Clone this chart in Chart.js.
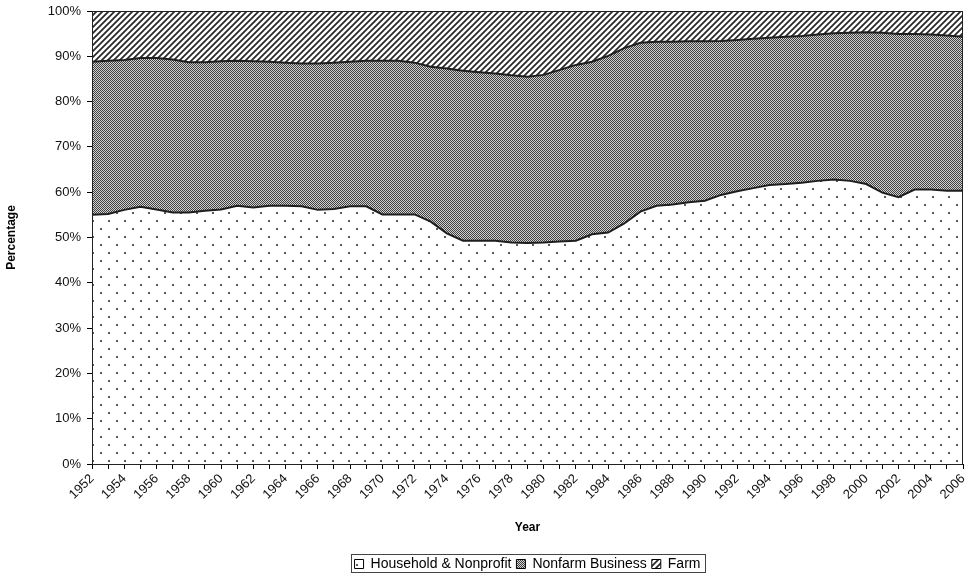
<!DOCTYPE html>
<html>
<head>
<meta charset="utf-8">
<script src="https://cdn.jsdelivr.net/npm/chart.js@4.4.0/dist/chart.umd.min.js"></script>
<style>body{margin:0;background:#fff}</style>
</head>
<body>
<canvas id="sectorChart" width="968" height="576"></canvas>
<script>
// share of total, percent
const years = ["1952","1953","1954","1955","1956","1957","1958","1959","1960","1961",
  "1962","1963","1964","1965","1966","1967","1968","1969","1970","1971",
  "1972","1973","1974","1975","1976","1977","1978","1979","1980","1981",
  "1982","1983","1984","1985","1986","1987","1988","1989","1990","1991",
  "1992","1993","1994","1995","1996","1997","1998","1999","2000","2001",
  "2002","2003","2004","2005","2006"];

const household = [55.0,55.2,56.1,56.8,56.2,55.5,55.5,55.9,56.2,57.0,
  56.6,57.0,57.0,56.9,56.1,56.3,56.9,56.9,55.1,55.1,
  55.1,53.5,50.9,49.3,49.3,49.3,48.9,48.8,48.9,49.1,
  49.3,50.7,51.1,53.1,55.7,57.0,57.3,57.8,58.1,59.4,
  60.2,60.9,61.6,61.8,62.1,62.5,62.8,62.5,61.8,59.9,
  58.9,60.6,60.6,60.3,60.3];

const nonfarm = [33.8,33.8,33.1,32.8,33.4,33.8,33.2,32.8,32.7,32.0,
  32.3,31.8,31.6,31.5,32.3,32.3,31.9,32.1,33.9,33.9,
  33.5,34.2,36.4,37.5,37.2,36.9,36.9,36.7,37.0,37.9,
  38.8,38.1,39.0,38.7,37.3,36.2,35.9,35.5,35.2,34.0,
  33.4,33.0,32.5,32.5,32.4,32.3,32.3,32.7,33.5,35.3,
  36.0,34.3,34.2,34.3,34.0];

const farm = [11.2,11.0,10.8,10.4,10.4,10.7,11.3,11.3,11.1,11.0,
  11.1,11.2,11.4,11.6,11.6,11.4,11.2,11.0,11.0,11.0,
  11.4,12.3,12.7,13.2,13.5,13.8,14.2,14.5,14.1,13.0,
  11.9,11.2,9.9,8.2,7.0,6.8,6.8,6.7,6.7,6.6,
  6.4,6.1,5.9,5.7,5.5,5.2,4.9,4.8,4.7,4.8,
  5.1,5.1,5.2,5.4,5.7];

const yTicks = [0,10,20,30,40,50,60,70,80,90,100];

const FONT = "Arial, 'Liberation Sans', sans-serif";

function makePattern(w, h, draw) {
  const c = document.createElement("canvas");
  c.width = w; c.height = h;
  const g = c.getContext("2d");
  draw(g);
  return g.createPattern(c, "repeat");
}

// household: white with sparse staggered dots
const dotFill = makePattern(16, 16, g => {
  g.fillStyle = "#fff";
  g.fillRect(0, 0, 16, 16);
  g.fillStyle = "#5a5a5a";
  g.fillRect(4, 4, 2, 2);
  g.fillRect(12, 12, 2, 2);
});

// nonfarm: fine grey checker
const checkFill = makePattern(2, 2, g => {
  g.fillStyle = "#d2d2d2";
  g.fillRect(0, 0, 2, 2);
  g.fillStyle = "#404040";
  g.fillRect(0, 0, 1, 1);
  g.fillRect(1, 1, 1, 1);
});

// farm: diagonal hatch
const hatchFill = makePattern(6, 6, g => {
  g.fillStyle = "#fff";
  g.fillRect(0, 0, 6, 6);
  g.strokeStyle = "#2a2a2a";
  g.lineWidth = 1.8;
  g.beginPath();
  g.moveTo(-1, 7); g.lineTo(7, -1);
  g.moveTo(-4, 4); g.lineTo(4, -4);
  g.moveTo(2, 10); g.lineTo(10, 2);
  g.stroke();
});

const frame = {
  id: "frame",
  beforeLayout(chart) {
    const lg = chart.legend;
    if (lg && !lg._fixed) {
      const fit = lg.fit.bind(lg);
      lg.fit = function () { fit(); this.height = 24; };
      lg._fixed = true;
    }
  },
  afterDatasetsDraw(chart) {
    const a = chart.chartArea, ctx = chart.ctx;
    ctx.save();
    ctx.strokeStyle = "#222";
    ctx.lineWidth = 1;
    ctx.strokeRect(a.left + 0.5, a.top + 0.5, a.right - a.left - 1, a.bottom - a.top);
    ctx.restore();
  },
  afterDraw(chart) {
    const hb = chart.legend.legendHitBoxes;
    if (!hb || !hb.length) return;
    const left = Math.min(...hb.map(b => b.left)) - 4;
    const right = Math.max(...hb.map(b => b.left + b.width)) + 4;
    const top = hb[0].top - 3;
    const ctx = chart.ctx;
    ctx.save();
    ctx.strokeStyle = "#444";
    ctx.lineWidth = 1;
    ctx.strokeRect(Math.round(left) + 0.5, Math.round(top) + 0.5, Math.round(right - left), Math.round(hb[0].height) + 4);
    ctx.restore();
  }
};

const ctx = document.getElementById("sectorChart").getContext("2d");

new Chart(ctx, {
  type: "line",
  data: {
    labels: years,
    datasets: [
      { label: "Household & Nonprofit", data: household, backgroundColor: dotFill, fill: "origin" },
      { label: "Nonfarm Business", data: nonfarm, backgroundColor: checkFill, fill: "-1" },
      { label: "Farm", data: farm, backgroundColor: hatchFill, fill: "-1" }
    ]
  },
  options: {
    responsive: false,
    animation: false,
    layout: { padding: { top: 11, right: 5, left: 0, bottom: 0 } },
    elements: {
      line: { borderColor: "#1e1e1e", borderWidth: 2, tension: 0 },
      point: { radius: 0, hoverRadius: 0 }
    },
    scales: {
      x: {
        offset: false,
        grid: { display: true, drawOnChartArea: false, drawTicks: true, tickLength: 5, color: "#000" },
        border: { display: true, color: "#000", width: 1 },
        ticks: {
          autoSkip: false, maxRotation: 45, minRotation: 45, padding: 2,
          color: "#111", font: { family: FONT, size: 13 },
          callback: function (v, i) { return i % 2 === 0 ? this.getLabelForValue(v) : ""; }
        },
        title: { display: true, text: "Year", color: "#000", font: { family: FONT, size: 12, weight: "bold" }, padding: { top: 0, bottom: 17 } },
        afterFit: s => { s.height = 88; s.paddingRight = 0; }
      },
      y: {
        stacked: true,
        min: 0, max: 100,
        afterBuildTicks: s => { s.ticks = yTicks.map(v => ({ value: v })); },
        grid: { display: true, drawOnChartArea: false, drawTicks: true, tickLength: 5, color: "#000" },
        border: { display: true, color: "#000", width: 1 },
        ticks: { padding: 6, color: "#111", font: { family: FONT, size: 13 }, callback: v => v + "%" },
        title: { display: true, text: "Percentage", color: "#000", font: { family: FONT, size: 12, weight: "bold" }, padding: { top: 4, bottom: 0 } },
        afterFit: s => { s.width = 92; s.paddingTop = 0; s.paddingBottom = 0; }
      }
    },
    plugins: {
      legend: {
        position: "bottom",
        fullSize: false,
        labels: {
          color: "#000", font: { family: FONT, size: 14 },
          boxWidth: 9, boxHeight: 9, padding: 5,
          generateLabels: chart => Chart.defaults.plugins.legend.labels.generateLabels(chart)
            .map(l => Object.assign(l, { lineWidth: 1, strokeStyle: "#000" }))
        }
      },
      tooltip: { enabled: false }
    }
  },
  plugins: [frame]
});
</script>
</body>
</html>
